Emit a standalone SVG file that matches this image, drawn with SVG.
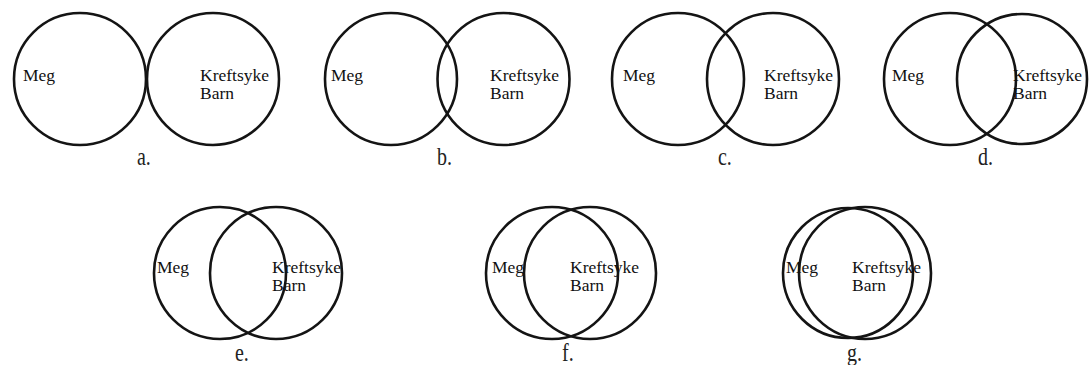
<svg xmlns="http://www.w3.org/2000/svg" width="1089" height="365" viewBox="0 0 1089 365">
<style>
.c{fill:none;stroke:#141414;stroke-width:2.6}
.t{font-size:17.5px;fill:#111}
.l{font-size:20px;fill:#222}
</style>
<rect width="1089" height="365" fill="#fff"/>
<g font-family="Liberation Serif, Times New Roman, serif">
<g id="panel-a">
<circle class="c" cx="80" cy="79" r="66"/>
<circle class="c" cx="213" cy="79" r="66"/>
<text class="t" x="23" y="81">Meg</text>
<text class="t" x="200" y="81">Kreftsyke</text>
<text class="t" x="200" y="99">Barn</text>
<text class="l" transform="translate(137,165) scale(1,1.3)">a.</text>
</g>
<g id="panel-b">
<circle class="c" cx="391" cy="79" r="66"/>
<circle class="c" cx="503.5" cy="79" r="66"/>
<text class="t" x="331" y="81">Meg</text>
<text class="t" x="490" y="81">Kreftsyke</text>
<text class="t" x="490" y="99">Barn</text>
<text class="l" transform="translate(437,165) scale(1,1.3)">b.</text>
</g>
<g id="panel-c">
<circle class="c" cx="678" cy="79" r="66"/>
<circle class="c" cx="773" cy="79" r="66"/>
<text class="t" x="623" y="81">Meg</text>
<text class="t" x="764" y="81">Kreftsyke</text>
<text class="t" x="764" y="99">Barn</text>
<text class="l" transform="translate(718,165) scale(1,1.3)">c.</text>
</g>
<g id="panel-d">
<circle class="c" cx="950" cy="79" r="66"/>
<circle class="c" cx="1022" cy="79" r="65"/>
<text class="t" x="892" y="81">Meg</text>
<text class="t" x="1013" y="81">Kreftsyke</text>
<text class="t" x="1013" y="99">Barn</text>
<text class="l" transform="translate(978,165) scale(1,1.3)">d.</text>
</g>
<g id="panel-e">
<circle class="c" cx="220" cy="273" r="66"/>
<circle class="c" cx="276" cy="273" r="66"/>
<text class="t" x="157" y="273">Meg</text>
<text class="t" x="272" y="273">Kreftsyke</text>
<text class="t" x="272" y="291">Barn</text>
<text class="l" transform="translate(235,361) scale(1,1.3)">e.</text>
</g>
<g id="panel-f">
<circle class="c" cx="552" cy="273" r="66"/>
<circle class="c" cx="590" cy="273" r="66"/>
<text class="t" x="492" y="273">Meg</text>
<text class="t" x="570" y="273">Kreftsyke</text>
<text class="t" x="570" y="291">Barn</text>
<text class="l" transform="translate(562,361) scale(1,1.3)">f.</text>
</g>
<g id="panel-g">
<circle class="c" cx="848" cy="273" r="65"/>
<circle class="c" cx="865" cy="273" r="66"/>
<text class="t" x="786" y="273">Meg</text>
<text class="t" x="852" y="273">Kreftsyke</text>
<text class="t" x="852" y="291">Barn</text>
<text class="l" transform="translate(847,361) scale(1,1.3)">g.</text>
</g>
</g>
</svg>
